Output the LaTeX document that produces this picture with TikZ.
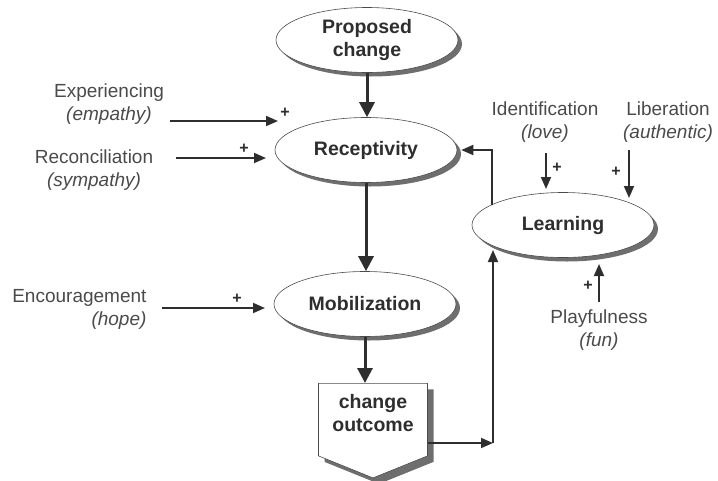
\documentclass[tikz,border=0pt]{standalone}
\usepackage{fontspec}
\setmainfont{Liberation Sans}
\usetikzlibrary{arrows.meta,shapes.geometric,shapes.symbols,shadows}
\definecolor{ink}{HTML}{2E2E2E}
\definecolor{soft}{HTML}{4A4A4A}
\definecolor{shade}{HTML}{6E6E6E}
\begin{document}
\begin{tikzpicture}[x=1pt,y=-1pt,
  stage/.style={ellipse, draw=soft, line width=0.6pt, fill=white,
    minimum width=182pt, minimum height=65pt, inner sep=0pt,
    font=\fontsize{19.5}{23}\selectfont\bfseries, text=ink, align=center,
    drop shadow={shadow xshift=4pt, shadow yshift=-4pt, fill=shade, opacity=1}},
  outbox/.style={signal, signal to=south, signal from=nowhere,
    signal pointer angle=136, draw=soft, line width=0.6pt, fill=white,
    minimum width=109pt, minimum height=89pt, inner sep=0pt,
    font=\fontsize{19.5}{23}\selectfont\bfseries, text=ink, align=center,
    text depth=14pt,
    drop shadow={shadow xshift=6pt, shadow yshift=-6pt, fill=shade, opacity=1}},
  influence/.style={font=\fontsize{19}{23}\selectfont, text=soft, align=center},
  plus/.style={font=\fontsize{16}{16}\selectfont\bfseries, text=ink, inner sep=0pt},
  mainflow/.style={line width=3pt, draw=ink, -{Triangle[length=15pt,width=15pt]}},
  feed/.style={line width=1.8pt, draw=ink, -{Triangle[length=12pt,width=10pt]}}
]
\useasboundingbox (0,0) rectangle (718,480);

% stages of the change process
\node[stage] (prop) at (367,40) {Proposed\\change};
\node[stage] (recep) at (366,150) {Receptivity};
\node[stage] (mobil) at (365,304) {Mobilization};
\node[stage] (learn) at (563,225) {Learning};
\node[outbox, anchor=north] (outc) at (373,383) {change\\outcome};

% main flow
\draw[mainflow] (prop.south) -- (prop.south |- recep.north);
\draw[mainflow] (recep.south) -- (recep.south |- mobil.north);
\draw[mainflow] (mobil.south) -- (mobil.south |- outc.north);

% outcome feeds learning, learning feeds receptivity
\coordinate (corner) at (493,443);
\coordinate (learnin) at (493,250);
\draw[feed] (outc.east |- corner) -- (corner);
\draw[feed] (corner) -- (learnin);
\coordinate (learnout) at (492,205);
\coordinate (learnup) at (492,150);
\draw[feed] (learnout) -- (learnup) -- ([xshift=4pt]recep.east);

% emotional influences
\node[influence] (exp) at (109,104) {Experiencing\\\textit{(empathy)}};
\node[influence] (rec) at (94,170) {Reconciliation\\\textit{(sympathy)}};
\node[influence, align=right, anchor=east] (enc) at (150,309) {Encouragement\\\textit{(hope)}};
\node[influence] (ide) at (545,122) {Identification\\\textit{(love)}};
\node[influence] (lib) at (668,122) {Liberation\\\textit{(authentic)}};
\node[influence] (pla) at (599,330) {Playfulness\\\textit{(fun)}};

\coordinate (expA) at (170,121); \coordinate (expB) at (278,121);
\coordinate (recA) at (176,158); \coordinate (recB) at (266,158);
\coordinate (encA) at (162,308); \coordinate (encB) at (265,308);
\coordinate (ideA) at (546,153); \coordinate (ideB) at (546,189);
\coordinate (libA) at (629,150); \coordinate (libB) at (629,198);
\coordinate (plaA) at (599,302); \coordinate (plaB) at (599,264);

\draw[feed] (expA) -- (expB);
\draw[feed] (recA) -- (recB);
\draw[feed] (encA) -- (encB);
\draw[feed] (ideA) -- (ideB);
\draw[feed] (libA) -- (libB);
\draw[feed] (plaA) -- (plaB);

\node[plus] (p1) at (285,113) {+};
\node[plus] (p2) at (244,149) {+};
\node[plus] (p3) at (237,299) {+};
\node[plus] (p4) at (557,168) {+};
\node[plus] (p5) at (616,172) {+};
\node[plus] (p6) at (588,286) {+};
\end{tikzpicture}
\end{document}
